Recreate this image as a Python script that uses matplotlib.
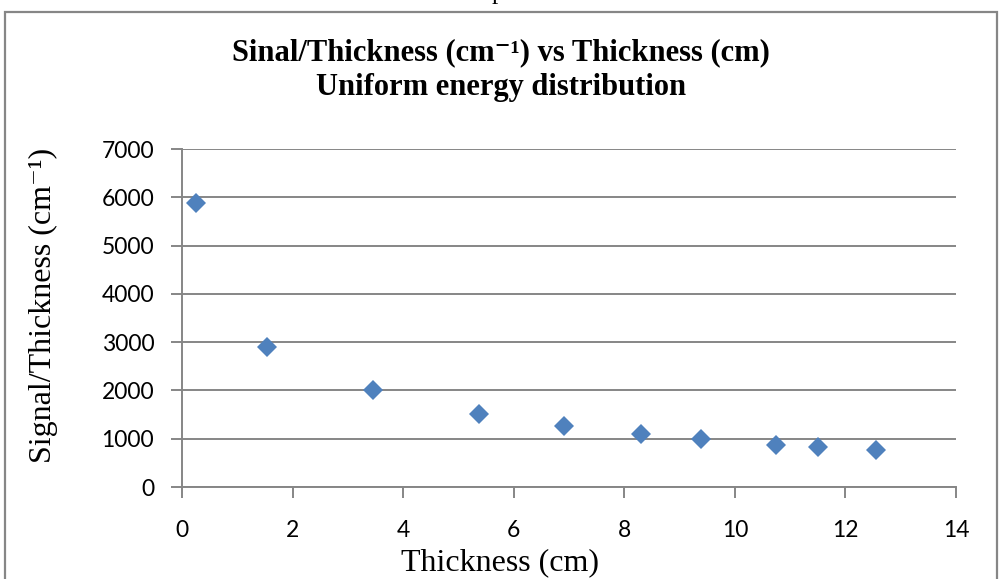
import matplotlib
matplotlib.use("Agg")
import matplotlib.pyplot as plt
from matplotlib.patches import Rectangle

# Data: thickness (cm) and signal per thickness (cm^-1)
thickness = [0.25, 1.54, 3.45, 5.37, 6.91, 8.30, 9.39, 10.74, 11.50, 12.55]
signal_per_thickness = [5890, 2890, 2000, 1520, 1270, 1090, 990, 880, 820, 760]

x_ticks = [0, 2, 4, 6, 8, 10, 12, 14]
y_ticks = [0, 1000, 2000, 3000, 4000, 5000, 6000, 7000]

W, H = 1002, 579
fig = plt.figure(figsize=(W / 100, H / 100), dpi=100)
fig.patch.set_facecolor("white")

grey = "#868686"
serif = ["Liberation Serif", "DejaVu Serif"]
sans = ["Lato", "DejaVu Sans"]

# Chart frame
frame = Rectangle((4.5 / W, -0.05), (997 - 4.5) / W, 1.05 - 11.5 / H,
                  transform=fig.transFigure, fill=False, edgecolor=grey,
                  linewidth=1.6, clip_on=False)
fig.patches.append(frame)

# Fragment of the surrounding page text
fig.text(498 / W, 1 + 1.5 / H, "p", ha="center", va="baseline",
         fontsize=18, family=serif, color="black")

ax = fig.add_axes([182 / W, 1 - 487 / H, (956 - 182) / W, (487 - 149) / H])
ax.set_xlim(0, 14)
ax.set_ylim(0, 7000)
ax.set_xticks(x_ticks)
ax.set_yticks(y_ticks)
ax.tick_params(axis="both", direction="out", length=8, width=1.4, color=grey,
               labelsize=16.5)
ax.tick_params(axis="y", pad=12)
ax.tick_params(axis="x", pad=16)
for lab in ax.get_xticklabels() + ax.get_yticklabels():
    lab.set_family(sans)

for side in ["top", "right"]:
    ax.spines[side].set_visible(False)
for side in ["left", "bottom"]:
    ax.spines[side].set_color(grey)
    ax.spines[side].set_linewidth(1.4)

ax.yaxis.grid(True, color=grey, linewidth=1.4)
ax.set_axisbelow(True)

ax.plot(thickness, signal_per_thickness, linestyle="none", marker="D",
        markersize=10.5, color="#4F81BD", markeredgewidth=0, clip_on=False,
        zorder=3)

ax.set_xlabel("Thickness (cm)", family=serif, fontsize=23)
ax.set_ylabel("Signal/Thickness (cm\u207b\u00b9)", family=serif, fontsize=23)
ax.xaxis.label.set_va("center")
ax.yaxis.label.set_va("center")
ax.xaxis.set_label_coords((500 - 182) / 774, (487 - 563) / 338)
ax.yaxis.set_label_coords((43 - 182) / 774, (487 - 305) / 338)

fig.text(0.5, 1 - 53 / H, "Sinal/Thickness (cm\u207b\u00b9) vs Thickness (cm)",
         ha="center", va="center", fontsize=22, fontweight="bold", family=serif)
fig.text(0.5, 1 - 88 / H, "Uniform energy distribution",
         ha="center", va="center", fontsize=22, fontweight="bold", family=serif)

fig.savefig("out.png", dpi=100)
